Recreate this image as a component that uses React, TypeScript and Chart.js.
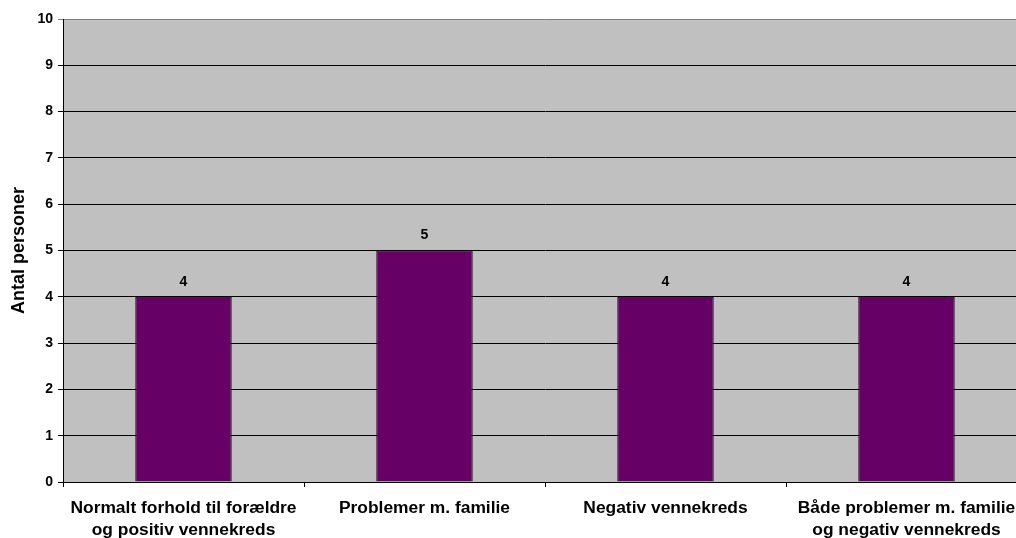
import React, { useEffect, useRef } from "react";
import { Chart, registerables } from "chart.js";

Chart.register(...registerables);

const categories: string[][] = [
  ["Normalt forhold til forældre", "og positiv vennekreds"],
  ["Problemer m. familie"],
  ["Negativ vennekreds"],
  ["Både problemer m. familie", "og negativ vennekreds"],
];
const values: number[] = [4, 5, 4, 4];
const yTitle = "Antal personer";
const yMin = 0;
const yMax = 10;

const FONT = "'Liberation Sans', Arial, Helvetica, sans-serif";

const dataLabelPlugin = {
  id: "dataLabels",
  afterDatasetsDraw(chart: any) {
    const ctx = chart.ctx;
    const meta = chart.getDatasetMeta(0);
    ctx.save();
    ctx.font = `bold 14px ${FONT}`;
    ctx.fillStyle = "#000";
    ctx.textAlign = "center";
    ctx.textBaseline = "middle";
    meta.data.forEach((el: any, i: number) => {
      ctx.fillText(String(values[i]), el.x, el.y - 15);
    });
    ctx.restore();
  },
};

const bgPlugin = {
  id: "plotBg",
  beforeDraw(chart: any) {
    const { ctx, chartArea } = chart;
    ctx.save();
    ctx.fillStyle = "#C0C0C0";
    ctx.fillRect(chartArea.left, chartArea.top, chartArea.right - chartArea.left, chartArea.bottom - chartArea.top);
    ctx.restore();
  },
};

export default function App() {
  const ref = useRef<HTMLCanvasElement | null>(null);
  useEffect(() => {
    if (!ref.current) return;
    const chart = new Chart(ref.current, {
      type: "bar",
      data: {
        labels: categories,
        datasets: [
          {
            data: values,
            backgroundColor: "#660066",
            borderColor: "#000000",
            borderWidth: 1,
            barPercentage: 0.4,
            categoryPercentage: 1,
          },
        ],
      },
      options: {
        responsive: false,
        animation: false,
        layout: { padding: { top: 19, right: 3, left: 0, bottom: 0 } },
        plugins: {
          legend: { display: false },
          tooltip: { enabled: false },
        },
        scales: {
          x: {
            grid: {
              offset: true,
              drawOnChartArea: false,
              drawTicks: true,
              tickLength: 5,
              color: "#000",
            },
            border: { display: true, color: "#000", width: 1 },
            ticks: {
              autoSkip: false,
              maxRotation: 0,
              minRotation: 0,
              padding: 11,
              color: "#000",
              font: { family: FONT, size: 17.4, weight: "bold", lineHeight: 1.22 },
            },
            afterFit(scale: any) {
              scale.height = 56;
            },
          },
          y: {
            min: yMin,
            max: yMax,
            grid: {
              color: (c: any) => (c.tick && c.tick.value === yMax ? "#808080" : "#000"),
              lineWidth: 1,
              tickLength: 5,
            },
            border: { display: true, color: "#000", width: 1 },
            ticks: {
              stepSize: 1,
              padding: 5,
              color: "#000",
              font: { family: FONT, size: 14, weight: "bold" },
            },
            title: {
              display: true,
              text: yTitle,
              color: "#000",
              padding: { top: 8, bottom: 0 },
              font: { family: FONT, size: 18, weight: "bold" },
            },
            afterFit(scale: any) {
              scale.width = 63;
            },
          },
        },
      },
      plugins: [bgPlugin, dataLabelPlugin],
    });
    return () => chart.destroy();
  }, []);
  return (
    <div style={{ position: "fixed", left: 0, top: 0, width: 1016, height: 538, overflow: "hidden", background: "#fff" }}>
      <canvas ref={ref} width={1030} height={538} style={{ display: "block" }} />
    </div>
  );
}
